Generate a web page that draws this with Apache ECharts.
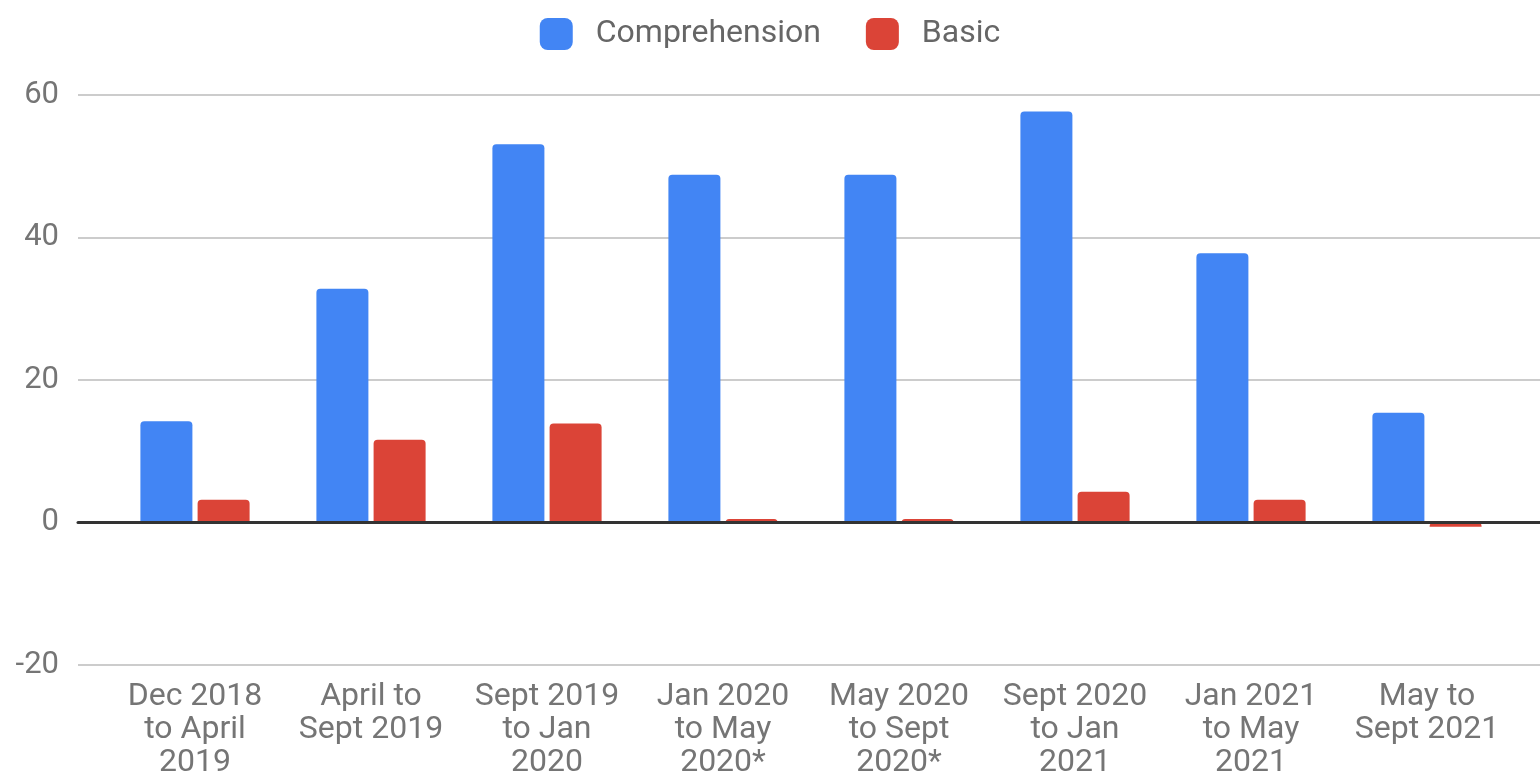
<!DOCTYPE html>
<html>
<head>
<meta charset="utf-8">
<script src="https://cdn.jsdelivr.net/npm/echarts@6/dist/echarts.min.js"></script>
<style>
  html, body { margin: 0; padding: 0; background: #fff; }
  #chart { width: 1540px; height: 776px; }
</style>
</head>
<body>
<div id="chart"></div>
<script>
// periods on the x axis
const periods = [
  'Dec 2018\nto April\n2019',
  'April to\nSept 2019',
  'Sept 2019\nto Jan\n2020',
  'Jan 2020\nto May\n2020*',
  'May 2020\nto Sept\n2020*',
  'Sept 2020\nto Jan\n2021',
  'Jan 2021\nto May\n2021',
  'May to\nSept 2021'
];
const comprehension = [14.2, 32.8, 53.1, 48.8, 48.8, 57.7, 37.8, 15.4];
const basic = [3.2, 11.6, 13.9, 0.5, 0.5, 4.3, 3.2, -0.6];
const yTicks = [-20, 0, 20, 40, 60];

const textGrey = '#757575';
const chart = echarts.init(document.getElementById('chart'));

chart.setOption({
  animation: false,
  textStyle: { fontFamily: 'Roboto' },
  legend: {
    top: 13,
    left: 'center',
    itemWidth: 33,
    itemHeight: 32,
    itemGap: 45,
    icon: 'roundRect',
    textStyle: { fontSize: 32, color: '#666', fontFamily: 'Roboto', padding: [0, 0, 0, 18] },
    data: ['Comprehension', 'Basic']
  },
  grid: [
    // background grid: gridlines, y labels, zero line
    { left: 78, right: 0, top: 95, bottom: 111, outerBoundsMode: 'none' },
    // bars
    { left: 107, right: 25, top: 95, bottom: 111, outerBoundsMode: 'none' }
  ],
  xAxis: [
    {
      gridIndex: 0, type: 'value', min: 0, max: 1, z: 3,
      axisLine: { show: true, onZero: true, lineStyle: { color: '#333', width: 3 } },
      axisTick: { show: false }, axisLabel: { show: false }, splitLine: { show: false }
    },
    {
      gridIndex: 1, type: 'category', data: periods,
      axisLine: { show: false, onZero: false }, axisTick: { show: false },
      axisLabel: {
        margin: 15, fontSize: 32, lineHeight: 33, color: textGrey,
        align: 'center', fontFamily: 'Roboto', interval: 0
      }
    }
  ],
  yAxis: [
    {
      gridIndex: 0, type: 'value', min: yTicks[0], max: yTicks[yTicks.length - 1], interval: 20,
      axisLine: { show: false }, axisTick: { show: false },
      axisLabel: { margin: 19, fontSize: 31, color: textGrey, fontFamily: 'Roboto' },
      splitLine: { lineStyle: { color: '#cccccc', width: 2 } }
    },
    {
      gridIndex: 1, type: 'value', min: yTicks[0], max: yTicks[yTicks.length - 1], interval: 20,
      show: false, splitLine: { show: false }
    }
  ],
  series: [
    {
      name: 'Comprehension', type: 'bar', xAxisIndex: 1, yAxisIndex: 1,
      data: comprehension, barWidth: 52, barGap: '10%',
      itemStyle: { color: '#4285F4', borderRadius: [4, 4, 0, 0] }
    },
    {
      name: 'Basic', type: 'bar', xAxisIndex: 1, yAxisIndex: 1,
      data: basic, barWidth: 52, barGap: '10%',
      itemStyle: { color: '#DB4437', borderRadius: [4, 4, 0, 0] }
    }
  ]
});
</script>
</body>
</html>
